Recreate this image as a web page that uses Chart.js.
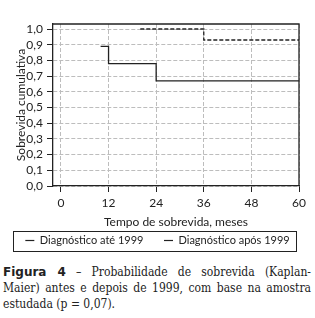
<!DOCTYPE html>
<html>
<head>
<meta charset="utf-8">
<script src="https://cdn.jsdelivr.net/npm/chart.js@4/dist/chart.umd.min.js"></script>
<style>
  html, body { margin: 0; padding: 0; background: #fff; }
  #wrap { width: 315px; height: 318px; position: relative; overflow: hidden; }
  #grafico { display: block; }
  .legenda {
    position: absolute; left: 3px; top: 264px; width: 308px;
    font-family: "DejaVu Serif Condensed", "DejaVu Serif", serif; font-size: 12px; line-height: 16px; color: #222;
  }
  .legenda span { display: block; text-align: justify; text-align-last: justify; white-space: nowrap; }
  .legenda span.fim { text-align-last: left; }
  .legenda b { font-family: "DejaVu Sans", sans-serif; font-weight: bold; }
</style>
</head>
<body>
<div id="wrap">
  <canvas id="grafico" width="315" height="262"></canvas>
  <div class="legenda">
    <span><b>Figura 4</b> – Probabilidade de sobrevida (Kaplan-</span>
    <span>Maier) antes e depois de 1999, com base na amostra</span>
    <span class="fim">estudada (p = 0,07).</span>
  </div>
</div>
<script>
// Dados (Kaplan-Meier)
const tempoAte1999 = [10, 12, 24, 60];
const sobrevidaAte1999 = [0.89, 0.78, 0.67, 0.67];
const tempoApos1999 = [20, 36, 60];
const sobrevidaApos1999 = [1.0, 0.93, 0.93];

const nomesSeries = ['Diagnóstico até 1999', 'Diagnóstico após 1999'];
const ticksX = [0, 12, 24, 36, 48, 60];
const ticksY = [0, 0.1, 0.2, 0.3, 0.4, 0.5, 0.6, 0.7, 0.8, 0.9, 1.0];

const fonte = { family: 'Lato, sans-serif', size: 12 };
const fonteLegenda = { family: 'Lato, sans-serif', size: 11 };
const corLinha = '#222';
const corGrade = '#bdbdbd';

const pontos = (xs, ys) => xs.map((x, i) => ({ x: x, y: ys[i] }));

//Moldura: bordas superior/direita da área e caixa em volta da legenda
const moldura = {
  id: 'moldura',
  afterUpdate(chart) {
    //centrar a legenda na largura toda da figura
    chart.legend.left += 8;
    chart.legend.right += 8;
  },
  beforeDatasetsDraw(chart) {
    const { ctx, chartArea: a } = chart;
    ctx.save();
    ctx.strokeStyle = corLinha;
    ctx.lineWidth = 1.3;
    ctx.setLineDash([]);
    ctx.beginPath();
    ctx.moveTo(a.left, a.top);
    ctx.lineTo(a.right, a.top);
    ctx.lineTo(a.right, a.bottom);
    ctx.stroke();
    ctx.restore();
  },
  afterDraw(chart) {
    const { ctx } = chart;
    const lg = chart.legend;
    ctx.save();
    ctx.strokeStyle = corLinha;
    ctx.lineWidth = 1;
    ctx.setLineDash([]);
    ctx.strokeRect(13.5, Math.round(lg.top) + 0.5, 283, 20);
    ctx.restore();
  }
};

new Chart(document.getElementById('grafico'), {
  type: 'line',
  data: {
    datasets: [
      {
        label: nomesSeries[0],
        data: pontos(tempoAte1999, sobrevidaAte1999),
        stepped: true,
        borderColor: corLinha,
        borderWidth: 1.3,
        pointRadius: 0,
        fill: false
      },
      {
        label: nomesSeries[1],
        data: pontos(tempoApos1999, sobrevidaApos1999),
        stepped: true,
        borderColor: corLinha,
        borderWidth: 1.3,
        borderDash: [4, 2],
        pointRadius: 0,
        fill: false
      }
    ]
  },
  options: {
    responsive: false,
    animation: false,
    layout: { padding: { top: 24, right: 16, left: 0, bottom: 6 } },
    plugins: {
      tooltip: { enabled: false },
      legend: {
        position: 'bottom',
        labels: {
          font: fonteLegenda,
          color: corLinha,
          usePointStyle: true,
          pointStyle: 'line',
          pointStyleWidth: 9,
          boxHeight: 8,
          padding: 4,
          //espaço extra depois do primeiro item, como no original
          generateLabels: (chart) => chart.data.datasets.map((ds, i) => ({
            text: i === 0 ? ds.label + '\u2003\u2003' : ds.label,
            strokeStyle: corLinha,
            fillStyle: corLinha,
            lineWidth: 1.2,
            lineDash: [],
            pointStyle: 'line',
            fontColor: corLinha,
            datasetIndex: i
          }))
        }
      }
    },
    scales: {
      x: {
        type: 'linear',
        min: -2,
        max: 60,
        afterBuildTicks: (s) => { s.ticks = ticksX.map(v => ({ value: v })); },
        afterFit: (s) => { s.height = 45; },
        ticks: { font: fonte, color: corLinha, padding: 4, maxRotation: 0, autoSkip: false },
        grid: { color: corGrade, lineWidth: 1, tickColor: corLinha, tickLength: 6, tickBorderDash: [] },
        border: { color: corLinha, width: 1.3, dash: [4, 2] },
        title: { display: true, text: 'Tempo de sobrevida, meses', font: fonte, color: corLinha, padding: { top: 2, bottom: 2 } }
      },
      y: {
        type: 'linear',
        min: 0,
        max: 1.032,
        afterBuildTicks: (s) => { s.ticks = ticksY.map(v => ({ value: v })); },
        afterFit: (s) => { s.width = 53; },
        ticks: {
          font: fonte, color: corLinha, padding: 4, autoSkip: false,
          callback: (v) => v.toFixed(1).replace('.', ',')
        },
        grid: { color: corGrade, lineWidth: 1, tickColor: corLinha, tickLength: 6, tickBorderDash: [] },
        border: { color: corLinha, width: 1.3, dash: [4, 2] },
        title: { display: true, text: 'Sobrevida cumulativa', font: fonte, color: corLinha, padding: { top: 14, bottom: 0 } }
      }
    }
  },
  plugins: [moldura]
});
</script>
</body>
</html>
